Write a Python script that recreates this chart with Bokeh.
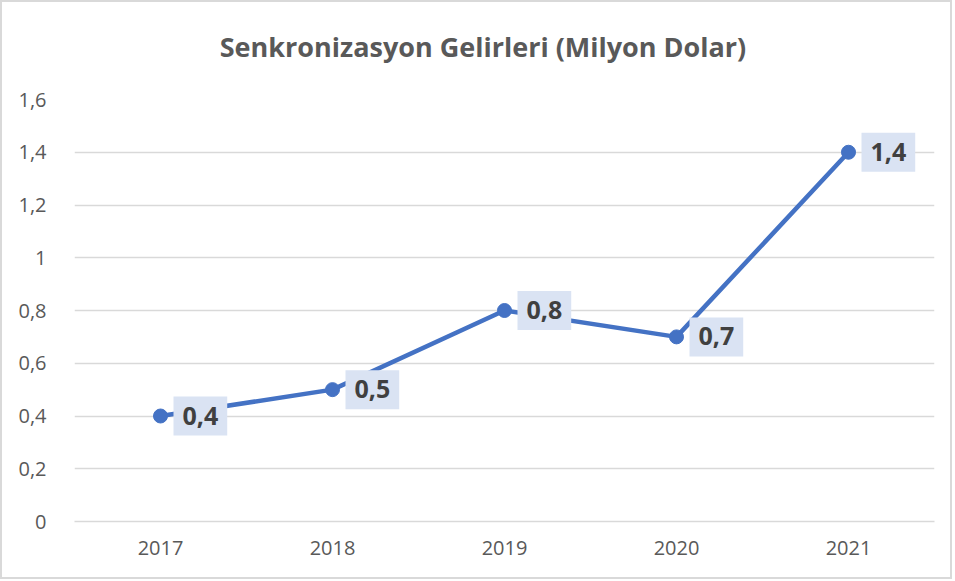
from bokeh.plotting import figure
from bokeh.models import ColumnDataSource, CustomJSTickFormatter, SingleIntervalTicker, Div
from bokeh.layouts import column
from bokeh.core.properties import value
from bokeh.embed import file_html
from bokeh.resources import INLINE

years = ["2017", "2018", "2019", "2020", "2021"]
revenue = [0.4, 0.5, 0.8, 0.7, 1.4]
labels = [f"{v:.1f}".replace(".", ",") for v in revenue]
title_text = "Senkronizasyon Gelirleri (Milyon Dolar)"

src = ColumnDataSource(dict(x=years, y=revenue, lab=labels))

title_div = Div(
    text=('<div style="width:948px;box-sizing:border-box;padding-left:14px;padding-top:27px;'
          'text-align:center;font-family:\'Open Sans\';font-weight:bold;font-size:27px;'
          'line-height:36px;color:#595959;">' + title_text + '</div>'),
    width=948, height=80, margin=0)

p = figure(x_range=years, y_range=(0, 1.6), width=948, height=495,
           output_backend="svg", toolbar_location=None, margin=0,
           min_border_left=72, min_border_right=16, min_border_top=17, min_border_bottom=56)
p.outline_line_color = None
p.background_fill_color = "white"
p.border_fill_color = "white"

p.line("x", "y", source=src, line_color="#4472C4", line_width=4.5)
p.scatter("x", "y", source=src, size=14, fill_color="#4472C4", line_color="#4472C4")
p.text("x", "y", text="lab", source=src, x_offset=13, text_align="left", text_baseline="middle",
       text_font=value("Open Sans"), text_font_style="bold", text_font_size="25px",
       text_color="#404040", background_fill_color="#DAE3F3", padding=(9, 9, 10, 11))

p.yaxis.ticker = SingleIntervalTicker(interval=0.2)
p.yaxis.formatter = CustomJSTickFormatter(code="return (Math.round(tick*10)/10).toString().replace('.', ',');")
for ax in (p.xaxis[0], p.yaxis[0]):
    ax.major_tick_line_color = None
    ax.minor_tick_line_color = None
    ax.major_label_text_font = "Open Sans"
    ax.major_label_text_font_size = "20px"
    ax.major_label_text_color = "#595959"
p.yaxis.axis_line_color = None
p.yaxis.major_label_standoff = 22
p.xaxis.axis_line_color = "#D9D9D9"
p.xaxis.axis_line_width = 1.5
p.xaxis.major_label_standoff = 13

p.xgrid.grid_line_color = None
p.ygrid.grid_line_color = "#D9D9D9"
p.ygrid.grid_line_width = 1.5

layout = column(title_div, p, spacing=0, styles={"border": "2px solid #D9D9D9", "background": "white"})

open("out.html", "w").write(file_html(layout, INLINE))
